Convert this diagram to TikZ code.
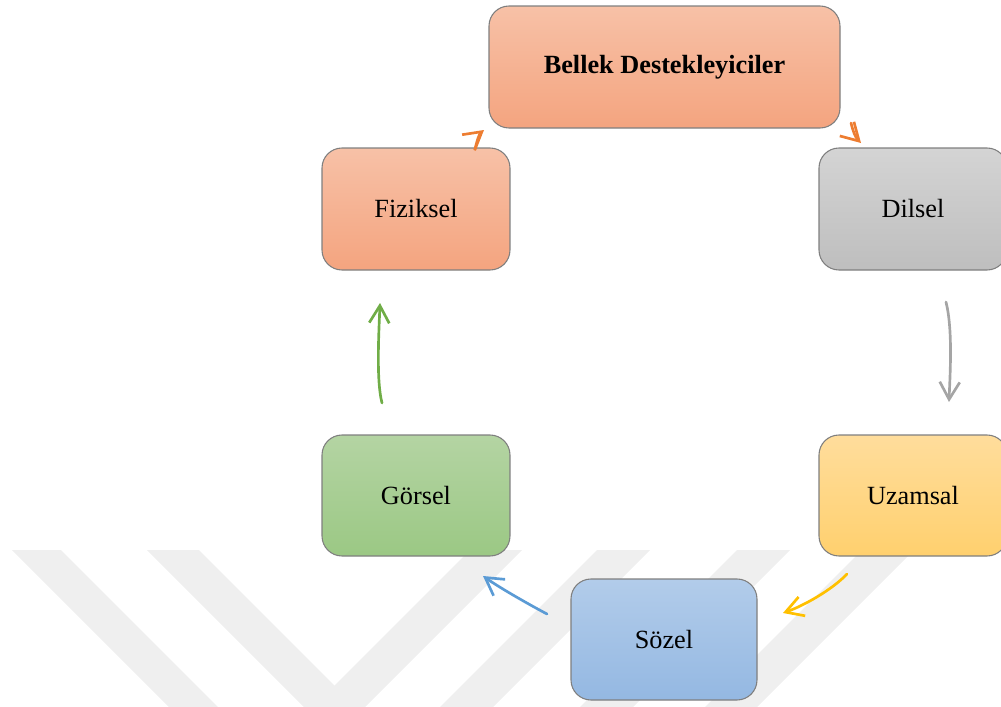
\documentclass[tikz,border=0pt]{standalone}
\usepackage{fontspec}
\setmainfont{Liberation Serif}
\usetikzlibrary{arrows.meta}
\definecolor{wm}{HTML}{EFEFEF}
\definecolor{boxline}{HTML}{7F7F7F}
\definecolor{orTop}{HTML}{F7C1A7}
\definecolor{orBot}{HTML}{F4A47F}
\definecolor{grTop}{HTML}{D4D4D4}
\definecolor{grBot}{HTML}{BEBEBE}
\definecolor{yeTop}{HTML}{FFDD9C}
\definecolor{yeBot}{HTML}{FFD06E}
\definecolor{blTop}{HTML}{B2CCEA}
\definecolor{blBot}{HTML}{94B8E2}
\definecolor{gnTop}{HTML}{B4D4A3}
\definecolor{gnBot}{HTML}{9BC884}
\definecolor{arOrange}{HTML}{ED7D31}
\definecolor{arGray}{HTML}{A5A5A5}
\definecolor{arYellow}{HTML}{FFC000}
\definecolor{arBlue}{HTML}{5B9BD5}
\definecolor{arGreen}{HTML}{70AD47}
\begin{document}
\begin{tikzpicture}[x=0.75pt,y=-0.75pt,
  box/.style={draw=boxline,line width=0.8pt,rounded corners=15pt,inner sep=0pt,
    font=\fontsize{19.7}{24}\selectfont,text=black},
  orangebox/.style={box,top color=orTop,bottom color=orBot},
  graybox/.style={box,top color=grTop,bottom color=grBot},
  yellowbox/.style={box,top color=yeTop,bottom color=yeBot},
  bluebox/.style={box,top color=blTop,bottom color=blBot},
  greenbox/.style={box,top color=gnTop,bottom color=gnBot},
  arr/.style={line width=2pt,line cap=round,-{Straight Barb[length=13pt,width=15pt]}},
  wmark/.style={fill=wm}]
\useasboundingbox (0,0) rectangle (1001,707);
% watermark
\fill[wmark] (12,550) -- (61,550) -- (218,707) -- (169,707) -- cycle;
\fill[wmark] (147,550) -- (199,550) -- (356,707) -- (304,707) -- cycle;
\fill[wmark] (470,550) -- (522,550) -- (365,707) -- (313,707) -- cycle;
\fill[wmark] (597,550) -- (650,550) -- (493,707) -- (440,707) -- cycle;
\fill[wmark] (737,550) -- (790,550) -- (633,707) -- (580,707) -- cycle;
\fill[wmark] (862,550) -- (914,550) -- (757,707) -- (705,707) -- cycle;
% boxes
\node[orangebox,minimum width=263.25pt,minimum height=91.5pt,font=\fontsize{19.7}{24}\selectfont\bfseries] (bellek) at (664.5,67) {Bellek Destekleyiciler};
\node[orangebox,minimum width=141pt,minimum height=91.5pt] (fiziksel) at (416,209) {Fiziksel};
\node[graybox,minimum width=141pt,minimum height=91.5pt] (dilsel) at (913,209) {Dilsel};
\node[greenbox,minimum width=141pt,minimum height=90.75pt] (gorsel) at (416,495.5) {Görsel};
\node[yellowbox,minimum width=141pt,minimum height=90.75pt] (uzamsal) at (913,495.5) {Uzamsal};
\node[bluebox,minimum width=139.5pt,minimum height=90.75pt] (sozel) at (664,639.5) {Sözel};
% arrow end points
\coordinate (a1s) at (475,149);
\coordinate (a1e) at (484,130);
\coordinate (a2s) at (851,123);
\coordinate (a2e) at (861,143);
\coordinate (a3s) at (946,302);
\coordinate (a3e) at (949,402);
\coordinate (a4s) at (847,574);
\coordinate (a4e) at (783,613);
\coordinate (a5s) at (547,614);
\coordinate (a5e) at (483,576);
\coordinate (a6s) at (382,403);
\coordinate (a6e) at (380,303);
% arrows
\draw[arr,arOrange] (a1s) .. controls (477,141) and (479,134) .. (a1e);
\draw[arr,arOrange] (a2s) .. controls (853,131) and (855,137) .. (a2e);
\draw[arr,arGray] (a3s) .. controls (953,330) and (950,375) .. (a3e);
\draw[arr,arYellow] (a4s) .. controls (832,590) and (803,606) .. (a4e);
\draw[arr,arBlue] (a5s) .. controls (530,605) and (500,588) .. (a5e);
\draw[arr,arGreen] (a6s) .. controls (376,380) and (379,330) .. (a6e);
\end{tikzpicture}
\end{document}
